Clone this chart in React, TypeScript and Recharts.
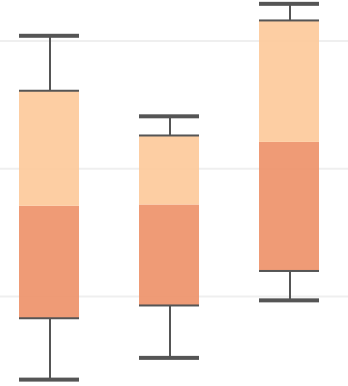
import { BarChart, Bar, XAxis, YAxis, CartesianGrid } from 'recharts';

const categories = ['A', 'B', 'C'];
const minValues = [3.5, 5.2, 9.7];
const q1Values = [8.3, 9.3, 12.0];
const medianValues = [17.1, 17.2, 22.1];
const q3Values = [26.1, 22.6, 31.6];
const maxValues = [30.4, 24.1, 32.9];
const yTicks = [10, 20, 30];

const WHISKER = '#555555';

// stacked segments built from the box stats
const data = categories.map((name, i) => ({
  name,
  base: minValues[i],
  lower: q1Values[i] - minValues[i],
  low: medianValues[i] - q1Values[i],
  high: q3Values[i] - medianValues[i],
  upper: maxValues[i] - q3Values[i],
}));

const LowerWhisker = ({ x, y, width, height }: any) => {
  const cx = x + width / 2 + 1;
  return (
    <g>
      <rect x={cx - 1} y={y} width={2} height={height} fill={WHISKER} />
      <rect x={x} y={y + height - 2} width={width} height={4} fill={WHISKER} />
    </g>
  );
};

const UpperWhisker = ({ x, y, width, height }: any) => {
  const cx = x + width / 2 + 1;
  return (
    <g>
      <rect x={cx - 1} y={y} width={2} height={height} fill={WHISKER} />
      <rect x={x} y={y - 2} width={width} height={4} fill={WHISKER} />
    </g>
  );
};

const LowBox = ({ x, y, width, height }: any) => (
  <g>
    <rect x={x} y={y} width={width} height={height} fill="#ED9067" fillOpacity={0.9} />
    <rect x={x} y={y + height - 1} width={width} height={2} fill={WHISKER} />
  </g>
);

const HighBox = ({ x, y, width, height }: any) => (
  <g>
    <rect x={x} y={y} width={width} height={height} fill="#FDC999" fillOpacity={0.9} />
    <rect x={x} y={y - 1} width={width} height={2} fill={WHISKER} />
  </g>
);

export default function App() {
  return (
    <div style={{ position: 'absolute', left: 0, top: 0, width: 348, height: 386, overflow: 'hidden', background: '#fff' }}>
      <div style={{ position: 'absolute', left: -11, top: 0 }}>
        <BarChart width={360} height={386} data={data} margin={{ top: 0, right: 0, bottom: 0, left: 0 }} barSize={60}>
          <CartesianGrid vertical={false} horizontalValues={yTicks} stroke="#efefef" strokeWidth={2} />
          <XAxis dataKey="name" hide />
          <YAxis hide domain={[3, 33.2]} ticks={yTicks} allowDataOverflow />
          <Bar dataKey="base" stackId="box" fill="none" isAnimationActive={false} />
          <Bar dataKey="lower" stackId="box" shape={<LowerWhisker />} isAnimationActive={false} />
          <Bar dataKey="low" stackId="box" shape={<LowBox />} isAnimationActive={false} />
          <Bar dataKey="high" stackId="box" shape={<HighBox />} isAnimationActive={false} />
          <Bar dataKey="upper" stackId="box" shape={<UpperWhisker />} isAnimationActive={false} />
        </BarChart>
      </div>
    </div>
  );
}
